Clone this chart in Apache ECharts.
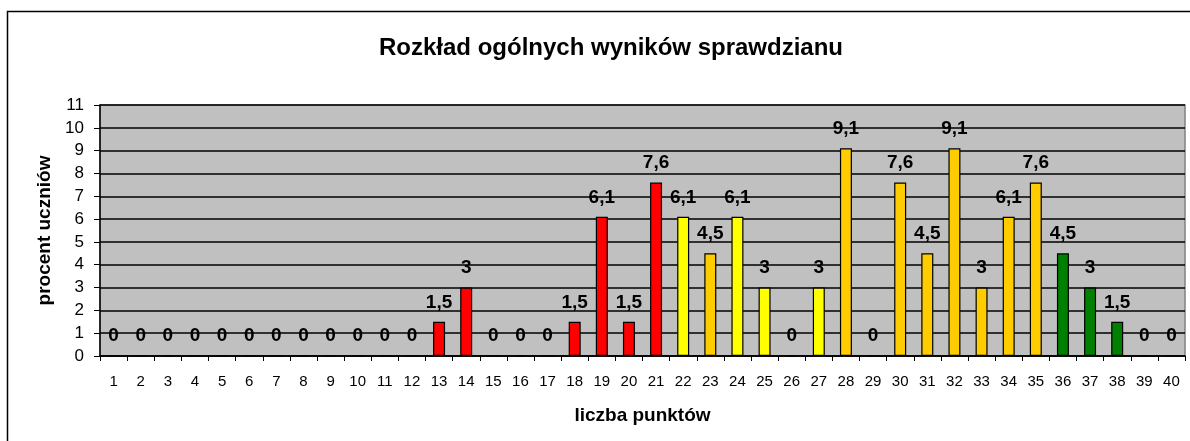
<!DOCTYPE html>
<html><head><meta charset="utf-8">
<script src="https://cdn.jsdelivr.net/npm/echarts@6/dist/echarts.min.js"></script>
<style>html,body{margin:0;padding:0;background:#fff}#c{width:1190px;height:441px}</style>
</head><body><div id="c"></div>
<script>
const categories = ['1','2','3','4','5','6','7','8','9','10','11','12','13','14','15','16','17','18','19','20','21','22','23','24','25','26','27','28','29','30','31','32','33','34','35','36','37','38','39','40'];
const values = [0,0,0,0,0,0,0,0,0,0,0,0,1.5,3,0,0,0,1.5,6.1,1.5,7.6,6.1,4.5,6.1,3,0,3,9.1,0,7.6,4.5,9.1,3,6.1,7.6,4.5,3,1.5,0,0];
const RED='#FF0000', YEL='#FFFF00', ORA='#FFCC00', GRN='#008000';
const barColors = [RED,RED,RED,RED,RED,RED,RED,RED,RED,RED,RED,RED,RED,RED,RED,RED,RED,RED,RED,RED,RED,YEL,ORA,YEL,YEL,YEL,YEL,ORA,ORA,ORA,ORA,ORA,ORA,ORA,ORA,GRN,GRN,GRN,GRN,GRN];
const yTicks = [0,1,2,3,4,5,6,7,8,9,10,11];
const titleText = 'Rozkład ogólnych wyników sprawdzianu';
const xName = 'liczba punktów';
const yName = 'procent uczniów';

const chart = echarts.init(document.getElementById('c'), null, {renderer:'canvas'});
const F = 'Arial, "Liberation Sans", sans-serif';
chart.setOption({
  animation:false,
  backgroundColor:'#fff',
  graphic:[{type:'rect',shape:{x:7.5,y:11.5,width:1200,height:450},style:{fill:'none',stroke:'#000',lineWidth:1.5},z:-1}],
  title:{text:titleText,left:606,top:31,textAlign:'center',textStyle:{fontFamily:F,fontSize:24,fontWeight:'bold',color:'#000'}},
  grid:{left:100,right:5,top:105,bottom:85,show:true,backgroundColor:'#C0C0C0',borderColor:'#808080',borderWidth:1.5},
  xAxis:{type:'category',data:categories,boundaryGap:true,
    name:xName,nameLocation:'middle',nameGap:50,nameTextStyle:{fontFamily:F,fontSize:19,fontWeight:'bold',color:'#000'},
    axisLine:{lineStyle:{color:'#000',width:1.5}},
    axisTick:{show:true,alignWithLabel:false,length:5,lineStyle:{color:'#000'}},
    axisLabel:{fontFamily:F,fontSize:15,color:'#000',margin:18,interval:0}},
  yAxis:{type:'value',min:0,max:11,interval:1,
    name:yName,nameLocation:'middle',nameGap:45,nameRotate:90,nameTextStyle:{fontFamily:F,fontSize:19,fontWeight:'bold',color:'#000'},
    axisLine:{show:true,lineStyle:{color:'#000',width:1.5}},
    axisTick:{show:true,length:6,lineStyle:{color:'#000'}},
    axisLabel:{fontFamily:F,fontSize:17,color:'#000',margin:16,formatter:v=>yTicks.includes(v)?String(v):''},
    splitLine:{show:true,lineStyle:{color:'#000',width:1.5}}},
  series:[{type:'bar',barWidth:12,
    data:values.map((v,i)=>({value:v,itemStyle:{color:barColors[i]}})),
    itemStyle:{borderColor:'#000',borderWidth:1.2},
    label:{show:true,position:'top',distance:10,fontFamily:F,fontSize:19,fontWeight:'bold',color:'#000',
      formatter:p=>String(p.value).replace('.',',')}}]
});
</script></body></html>
